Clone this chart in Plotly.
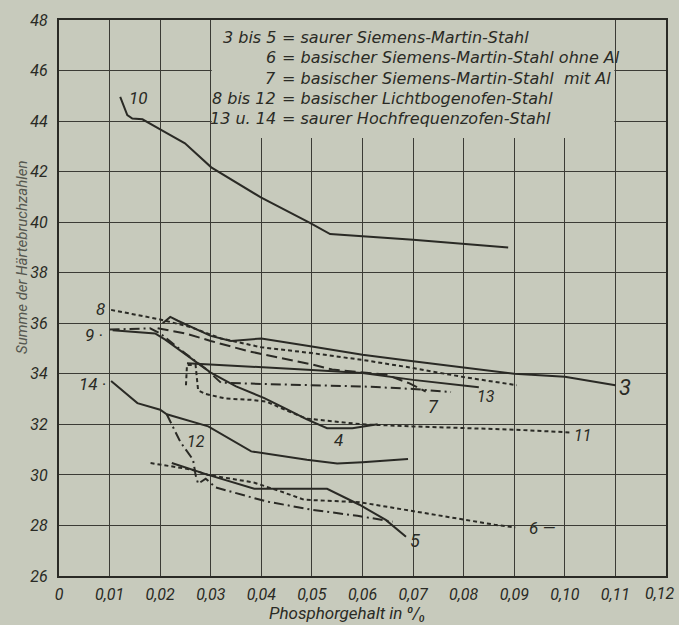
import plotly.graph_objects as go

# ---------------- data ----------------
x_ticks = [0, 0.01, 0.02, 0.03, 0.04, 0.05, 0.06, 0.07, 0.08, 0.09, 0.10, 0.11, 0.12]
x_tick_text = ["0", "0,01", "0,02", "0,03", "0,04", "0,05", "0,06", "0,07", "0,08", "0,09", "0,10", "0,11", "0,12"]
y_ticks = [26, 28, 30, 32, 34, 36, 38, 40, 42, 44, 46, 48]

c3_x = [0.0205, 0.022, 0.0235, 0.030, 0.034, 0.040, 0.050, 0.060, 0.070, 0.084, 0.090, 0.100, 0.110]
c3_y = [36.0, 36.25, 36.1, 35.5, 35.3, 35.4, 35.08, 34.75, 34.5, 34.16, 34.0, 33.88, 33.55]

c4_x = [0.0106, 0.019, 0.021, 0.0256, 0.030, 0.035, 0.0406, 0.045, 0.049, 0.053, 0.058, 0.063]
c4_y = [35.72, 35.6, 35.35, 34.7, 34.05, 33.5, 33.04, 32.6, 32.2, 31.85, 31.85, 32.0]

c5_x = [0.0223, 0.0295, 0.0386, 0.053, 0.0594, 0.0646, 0.0686]
c5_y = [30.47, 30.0, 29.45, 29.45, 28.82, 28.22, 27.55]

c6_x = [0.0181, 0.0262, 0.0295, 0.0347, 0.0385, 0.0438, 0.0484, 0.0594, 0.0699, 0.0796, 0.0861, 0.0902]
c6_y = [30.47, 30.21, 30.0, 29.81, 29.7, 29.35, 29.02, 28.92, 28.56, 28.23, 28.03, 27.92]

c7_x = [0.0195, 0.025, 0.030, 0.0373, 0.050, 0.054, 0.0646, 0.0692, 0.0725]
c7_y = [35.8, 35.6, 35.3, 34.9, 34.37, 34.17, 33.97, 33.63, 33.3]

c8_x = [0.0103, 0.020, 0.026, 0.032, 0.040, 0.050, 0.060, 0.070, 0.080, 0.0905]
c8_y = [36.53, 36.15, 35.85, 35.4, 35.05, 34.82, 34.55, 34.23, 33.87, 33.55]

c9_x = [0.0100, 0.018, 0.020, 0.025, 0.029, 0.032, 0.040, 0.050, 0.060, 0.070, 0.0775]
c9_y = [35.75, 35.8, 35.6, 34.8, 34.2, 33.65, 33.6, 33.55, 33.5, 33.4, 33.28]

c10_x = [0.0121, 0.0135, 0.0145, 0.0165, 0.020, 0.0249, 0.0301, 0.0399, 0.0497, 0.0536, 0.070, 0.0888]
c10_y = [44.96, 44.24, 44.1, 44.07, 43.67, 43.12, 42.17, 40.98, 39.96, 39.53, 39.3, 39.0]

c11_x = [0.0251, 0.0253, 0.0270, 0.0275, 0.029, 0.033, 0.038, 0.041, 0.045, 0.049, 0.0503, 0.060, 0.0699, 0.090, 0.1011]
c11_y = [33.55, 34.35, 34.35, 33.35, 33.2, 33.02, 32.97, 32.9, 32.55, 32.22, 32.2, 32.0, 31.92, 31.79, 31.68]

c12_x = [0.0213, 0.024, 0.0265, 0.027, 0.0275, 0.029, 0.031, 0.041, 0.050, 0.059, 0.066]
c12_y = [32.4, 31.3, 30.6, 30.0, 29.65, 29.85, 29.5, 28.95, 28.62, 28.38, 28.15]

c13_x = [0.0253, 0.040, 0.050, 0.060, 0.070, 0.083]
c13_y = [34.42, 34.27, 34.15, 34.03, 33.76, 33.47]

c14_x = [0.0103, 0.0155, 0.020, 0.0213, 0.0295, 0.038, 0.049, 0.055, 0.060, 0.069]
c14_y = [33.72, 32.84, 32.58, 32.4, 31.92, 30.93, 30.6, 30.45, 30.5, 30.63]

curve_names = ["3", "4", "5", "6", "7", "8", "9", "10", "11", "12", "13", "14"]

legend_keys = ["3 bis 5", "6", "7", "8 bis 12", "13 u. 14"]
legend_texts = ["= saurer Siemens-Martin-Stahl",
                "= basischer Siemens-Martin-Stahl ohne Al",
                "= basischer Siemens-Martin-Stahl  mit Al",
                "= basischer Lichtbogenofen-Stahl",
                "= saurer Hochfrequenzofen-Stahl"]

x_title = "Phosphorgehalt in ⁰/₀"
y_title = "Summe der Härtebruchzahlen"

# ---------------- styling ----------------
BG = "#c7cabc"
INK = "#2a2a25"
FONT = "Roboto, DejaVu Sans, sans-serif"
LFONT = "DejaVu Sans, Roboto, sans-serif"

SOLID = "solid"
DOT = "4px,3px"
LDASH = "11px,5px"
DASHDOT = "10px,4px,2px,4px"

series = [
    (c3_x, c3_y, SOLID), (c4_x, c4_y, SOLID), (c5_x, c5_y, SOLID),
    (c6_x, c6_y, DOT), (c7_x, c7_y, LDASH), (c8_x, c8_y, DOT),
    (c9_x, c9_y, DASHDOT), (c10_x, c10_y, SOLID), (c11_x, c11_y, DOT),
    (c12_x, c12_y, DASHDOT), (c13_x, c13_y, SOLID), (c14_x, c14_y, SOLID),
]

fig = go.Figure()
for name, (xs, ys, dash) in zip(curve_names, series):
    fig.add_trace(go.Scatter(x=xs, y=ys, mode="lines", name=name,
                             line=dict(color=INK, width=2, dash=dash),
                             showlegend=False, hoverinfo="skip"))

# curve labels (layout positions)
label_pos = {
    "10": (0.0158, 44.9, 17), "8": (0.0082, 36.55, 17), "9": (0.0070, 35.55, 17),
    "14": (0.0066, 33.6, 17), "3": (0.1118, 33.45, 22), "13": (0.0845, 33.1, 16),
    "7": (0.0740, 32.72, 18), "4": (0.0552, 31.38, 17), "11": (0.1035, 31.55, 16),
    "12": (0.0270, 31.32, 16), "5": (0.0703, 27.4, 18), "6": (0.0925, 27.9, 17),
}
label_text = {"9": "9 ·", "14": "14 ·", "6": "6 —"}
for name in curve_names:
    lx, ly, fs = label_pos[name]
    fig.add_annotation(x=lx, y=ly, text=label_text.get(name, name), showarrow=False,
                       xanchor="left" if name == "6" else "center", yanchor="middle",
                       font=dict(family=FONT, size=fs, color=INK, style="italic"))

# legend box (blank area covering the grid)
fig.add_shape(type="rect", xref="x", yref="y", x0=0.0302, x1=0.1098, y0=43.33, y1=48,
              fillcolor=BG, line=dict(width=0), layer="between")

leg_y = [47.3, 46.5, 45.7, 44.9, 44.1]
for key, txt, yy in zip(legend_keys, legend_texts, leg_y):
    fig.add_annotation(x=0.0432, y=yy, text=key, showarrow=False, xanchor="right",
                       yanchor="middle", font=dict(family=LFONT, size=16, color=INK, style="italic"))
    fig.add_annotation(x=0.0437, y=yy, text=txt, showarrow=False, xanchor="left",
                       yanchor="middle", font=dict(family=LFONT, size=16, color=INK, style="italic"))

# axis titles
fig.add_annotation(xref="paper", yref="y", x=-0.062, y=38.6, text=y_title, textangle=-90,
                   showarrow=False, xanchor="center", yanchor="middle",
                   font=dict(family=FONT, size=15, color="#55574f", style="italic"))
fig.add_annotation(xref="x", yref="paper", x=0.057, y=-0.066, text=x_title,
                   showarrow=False, xanchor="center", yanchor="middle",
                   font=dict(family=FONT, size=17, color=INK, style="italic"))
# last x tick label, kept inside the page at its right edge
fig.add_annotation(xref="paper", yref="paper", x=1.016, y=-0.011, text=x_tick_text[-1],
                   showarrow=False, xanchor="right", yanchor="top",
                   font=dict(family=FONT, size=16, color=INK, style="italic"))

fig.update_xaxes(range=[0, 0.12], tickvals=x_ticks[:-1], ticktext=x_tick_text[:-1],
                 showgrid=True, gridcolor="#3b3b35", gridwidth=1,
                 showline=True, linecolor=INK, linewidth=2, mirror=True,
                 ticks="", zeroline=False, ticklabelstandoff=3,
                 tickfont=dict(family=FONT, size=16, color=INK, style="italic"))
fig.update_yaxes(range=[26, 48], tickvals=y_ticks,
                 showgrid=True, gridcolor="#3b3b35", gridwidth=1,
                 showline=True, linecolor=INK, linewidth=2, mirror=True,
                 ticks="", zeroline=False, ticklabelstandoff=6,
                 tickfont=dict(family=FONT, size=16, color=INK, style="italic"))

fig.update_layout(width=679, height=625, paper_bgcolor=BG, plot_bgcolor=BG,
                  margin=dict(l=59, r=11, t=20, b=49), showlegend=False)

fig.write_html("out.html", config={"displayModeBar": False},
               post_script="document.body.style.margin='0';document.body.style.background='%s';" % BG)
